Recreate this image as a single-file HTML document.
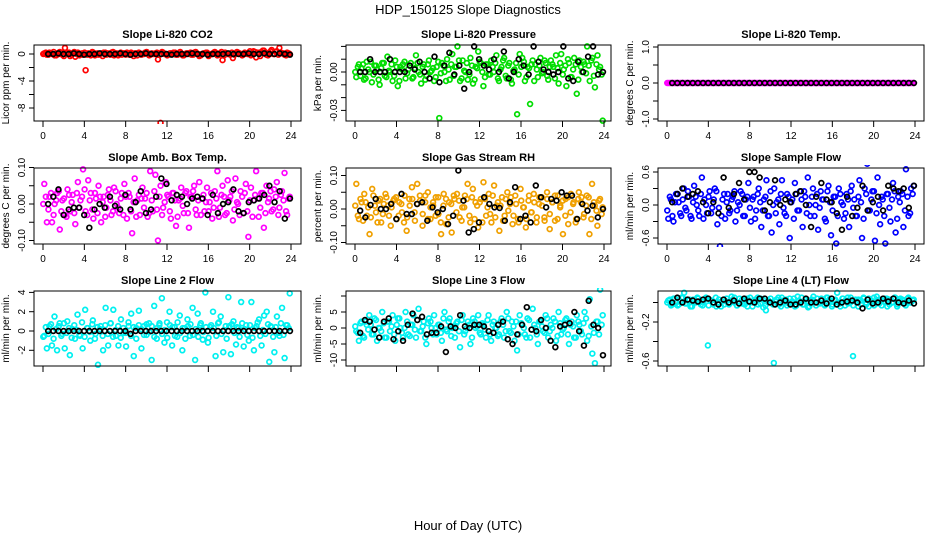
<!DOCTYPE html>
<html><head><meta charset="utf-8"><style>
html,body{margin:0;padding:0;background:#fff;}
svg{display:block;font-family:"Liberation Sans",sans-serif;}
</style></head><body>
<svg id="chart" width="936" height="540" viewBox="0 0 936 540">
<text x="468" y="14" text-anchor="middle" font-size="13">HDP_150125  Slope Diagnostics</text>
<text x="468" y="530" text-anchor="middle" font-size="13">Hour of Day (UTC)</text>
</svg>
<script>
const titles=["Slope Li-820 CO2","Slope Li-820 Pressure","Slope Li-820 Temp.","Slope Amb. Box Temp.","Slope Gas Stream RH","Slope Sample Flow","Slope Line 2 Flow","Slope Line 3 Flow","Slope Line 4 (LT) Flow"];
const yTitles=["Licor ppm per min.","kPa per min.","degrees C per min.","degrees C per min.","percent per min.","ml/min per min.","ml/min per min.","ml/min per min.","ml/min per min."];
const colors=["#ff0000","#00dd00","#ff00ff","#ff00ff","#f0a000","#0000ff","#00f0f0","#00f0f0","#00f0f0"];
const xTickValues=[0,4,8,12,16,20,24];
const yTicks=[[0,-2,-4,-6,-8],[0.02,0.01,0,-0.01,-0.02,-0.03],[1,0.5,0,-0.5,-1],[0.1,0.05,0,-0.05,-0.1],[0.1,0.05,0,-0.05,-0.1],[0.6,0.3,0,-0.3,-0.6],[4,2,0,-2],[10,5,0,-5,-10],[0,-0.2,-0.4,-0.6]];
const yTickLabels=[[[0,"0"],[-4,"-4"],[-8,"-8"]],[[0,"0.00"],[-0.03,"-0.03"]],[[1,"1.0"],[0,"0.0"],[-1,"-1.0"]],[[0.1,"0.10"],[0,"0.00"],[-0.1,"-0.10"]],[[0.1,"0.10"],[0,"0.00"],[-0.1,"-0.10"]],[[0.6,"0.6"],[0,"0.0"],[-0.6,"-0.6"]],[[4,"4"],[2,"2"],[0,"0"],[-2,"-2"]],[[5,"5"],[0,"0"],[-5,"-5"],[-10,"-10"]],[[-0.2,"-0.2"],[-0.6,"-0.6"]]];
const s1=[0.1,-0.1,0.2,0,-0.2,0.1,0.3,-0.1,0.9,0.2,-0.3,0.1,-0.4,0.2,0,-0.1,-2.4,0.1,-0.2,0.2,0,-0.1,0.1,0.2,-0.1,0,0.2,-0.2,0.1,0,-0.1,0.1,0.2,-0.1,0,0.1,-0.2,0.1,0,0.2,0.1,-0.1,0,0.1,-0.8,-10.2,0.2,0,-0.1,0.1,0.2,-0.1,0,0.1,-0.2,0.1,0,-0.1,0.2,0.1,-0.3,0,0.1,0.2,-0.1,0,0.3,-0.2,0.1,-0.9,0.2,0,-0.1,-0.6,0.1,0.2,0,-0.1,0.1,0,-0.2,0.4,-0.5,0.1,0.3,0.5,-0.1,0.2,0.6,0,0.4,0.9,0.1,-0.1,0.2,0];
const c1=[0,0.2,-0.1,0.1,0.3,-0.2,0,0.2,-0.3,0.1,0.2,-0.1,0.3,0,-0.2,0.1,0.2,-0.1,0,0.3,-0.2,0.1,0,-0.3,0.2,0.1,-0.1,0.3,0,-0.2,0.2,0.1,-0.1,0,0.2,-0.3,0.1,0.2,-0.1,0,0.3,-0.2,0.1,0,0.2,-0.1,0.3,0,-0.2,0.1,0,0.2,-0.1,0.3,-0.2,0,0.1,0.2,-0.1,0.3,0,-0.2,0.1,0.2,-0.3,0,0.2,0.1,-0.1,0.3,-0.2,0.1,0,0.2,-0.1,0.3,0.1,-0.2,0.2,0,0.4,-0.1,0.3,0.2,-0.3,0.5,0.1,-0.2,0.4,0,0.3,-0.1,0.2,0.1,-0.2,0.1];
const b1=[0,0,0.1,0,0,0.1,0,-0.1,0,0,0.1,0,0,0,0.1,0,-0.1,0,0,0.1,0,0,0,0,-0.1,0,0,0,0.1,0,0,-0.1,0,0,0,0.1,0,0,0,0.1,0,0,0.1,0,0,0.1,0,-0.1];
const s2=[-0.004,0.006,0.003,-0.006,0.008,0,-0.008,0.005,0.002,-0.01,0.007,-0.003,0.012,0,-0.007,0.009,-0.011,0.004,0.006,-0.005,0.002,0.007,-0.004,0.013,0,-0.009,0.006,-0.003,0.009,0.001,-0.007,0.004,-0.036,0.007,0,0.01,-0.006,0.014,0.004,0.02,-0.007,0.009,0,-0.006,0.011,-0.009,0.004,0.016,0.007,-0.011,0.006,-0.002,0.009,0,0.013,-0.007,0.004,0.011,-0.005,0.007,-0.009,0.002,-0.033,0.014,0.011,-0.007,0.004,-0.025,0.009,0.006,-0.004,0.011,0,0.007,-0.006,0.009,0.004,0.013,-0.009,0.014,0.002,-0.011,0.007,-0.004,0.011,-0.017,0.009,0,0.006,0.02,-0.007,0.011,-0.012,0.013,0.004,-0.038];
const c2=[0,0.004,-0.003,0.006,-0.005,0.002,0.008,-0.002,0.005,-0.006,0.003,0.007,-0.004,0.001,0.006,-0.003,0.004,-0.007,0.002,0.008,-0.001,0.005,-0.005,0.003,0.007,-0.002,0.004,-0.006,0.006,0,0.003,-0.004,0.008,-0.001,0.005,-0.007,0.002,0.006,-0.003,0.004,0.009,-0.005,0.001,0.007,-0.002,0.005,-0.006,0.003,0.008,0,-0.004,0.006,-0.002,0.004,0.007,-0.005,0.002,0.009,-0.003,0.005,-0.006,0.001,0.007,-0.002,0.004,0.008,-0.004,0.003,0.006,-0.007,0.002,0.005,-0.001,0.009,-0.003,0.004,0.006,-0.005,0.003,0.007,-0.002,0.005,0.01,-0.004,0.002,0.006,-0.006,0.004,0.008,-0.001,0.005,0.009,-0.003,0.006,0.002,-0.002];
const b2=[0,0,0.01,0,0,0,0.01,0,0,0,0.005,0.002,0.008,0,-0.005,0.012,-0.008,0.005,0.015,-0.002,0.005,-0.013,0,0.02,0.01,0.005,0.002,0.01,0,0.016,-0.005,0,0.01,0.005,-0.002,0.02,0.008,0.002,0,-0.002,0,0.02,-0.005,-0.007,0.008,0,0.012,0.02,-0.002,0];
const s3=[0,0,0,0,0,0,0,0,0,0,0,0,0,0,0,0,0,0,0,0,0,0,0,0,0,0,0,0,0,0,0,0,0,0,0,0,0,0,0,0,0,0,0,0,0,0,0,0,0,0,0,0,0,0,0,0,0,0,0,0,0,0,0,0,0,0,0,0,0,0,0,0,0,0,0,0,0,0,0,0,0,0,0,0,0,0,0,0,0,0,0,0,0,0,0,0];
const c3=[0,0,0,0,0,0,0,0,0,0,0,0,0,0,0,0,0,0,0,0,0,0,0,0,0,0,0,0,0,0,0,0,0,0,0,0,0,0,0,0,0,0,0,0,0,0,0,0,0,0,0,0,0,0,0,0,0,0,0,0,0,0,0,0,0,0,0,0,0,0,0,0,0,0,0,0,0,0,0,0,0,0,0,0,0,0,0,0,0,0,0,0,0,0,0,0];
const b3=[0,0,0,0,0,0,0,0,0,0,0,0,0,0,0,0,0,0,0,0,0,0,0,0,0,0,0,0,0,0,0,0,0,0,0,0,0,0,0,0,0,0,0,0,0,0,0,0];
const s4=[0.055,-0.05,0.02,-0.05,0,0.03,-0.07,0.01,-0.03,0.04,-0.02,0.025,-0.055,0.06,0.01,0.095,-0.02,0.065,0.03,-0.04,0.015,0.05,-0.05,0.02,-0.01,0.04,-0.03,0.045,0,-0.025,0.03,0.055,-0.04,0.02,-0.08,0.07,0.01,-0.03,0.045,0.015,-0.035,0.09,-0.02,0.08,-0.1,0.05,-0.01,0.06,0.02,-0.04,0.03,-0.06,0.01,0.045,-0.025,0.035,-0.065,0.02,0.05,-0.03,0.06,0.015,-0.02,0.045,0.005,-0.04,0.035,0.09,-0.01,0.05,-0.03,0.065,0.02,-0.045,0.07,0,0.035,-0.025,0.055,-0.09,0.045,0.01,0.09,-0.035,0.03,-0.065,0.05,0.015,-0.02,0.04,0.06,-0.01,0.035,0.085,-0.03,0.02];
const c4=[0,0.02,-0.015,0.03,-0.03,0.01,0.035,-0.02,0.015,-0.035,0.025,0.005,-0.025,0.03,-0.01,0.02,0.04,-0.03,0.01,-0.015,0.03,-0.025,0.02,0.005,-0.035,0.025,0.01,-0.02,0.035,-0.01,0.015,-0.03,0.02,0.03,-0.02,0.005,-0.035,0.025,0.015,-0.01,0.03,-0.025,0.01,0.035,-0.015,0.02,-0.03,0.005,0.025,-0.02,0.03,0.01,-0.035,0.015,-0.005,0.03,-0.025,0.02,0.035,-0.015,0.01,-0.03,0.025,0.005,-0.02,0.03,-0.01,0.015,-0.035,0.025,0.02,-0.025,0.01,0.035,-0.015,0.005,-0.03,0.02,0.03,-0.02,0.01,-0.035,0.025,0.015,-0.01,0.03,-0.025,0.005,0.035,-0.015,0.02,-0.03,0.025,0.01,-0.02,0.015];
const b4=[0,0.02,0.04,-0.03,-0.015,-0.01,-0.01,-0.03,-0.065,-0.015,0,-0.01,0.02,-0.005,-0.015,0.025,-0.015,0.005,0.035,-0.025,-0.015,0.02,0.07,0.055,0.01,0.025,0.02,0,0.015,0.02,0.015,-0.03,0.025,-0.025,0,0.005,0.04,-0.02,-0.025,0.005,0.01,0.015,0.025,0.05,0.005,0.035,-0.04,0.015];
const s5=[0.075,-0.03,0.02,0.045,-0.02,-0.075,0.06,0.01,-0.04,0.03,-0.015,0.045,0.01,-0.05,0.025,0.035,-0.02,0.015,-0.04,-0.065,0.03,0.065,-0.01,0.075,0.04,-0.05,0.02,0.05,-0.03,0.01,0.035,-0.015,-0.075,0.045,-0.045,0.02,-0.07,0.03,0.045,-0.025,0.005,0.04,0.075,-0.04,0.06,0.02,-0.055,0.03,0.08,-0.02,0.045,-0.04,0.07,0.01,-0.065,0.035,-0.02,0.05,0.015,-0.045,0.04,-0.03,0.06,0.005,-0.055,0.025,-0.01,0.045,-0.04,0.015,0.035,-0.025,0.05,-0.06,0.02,-0.035,0.04,0.01,-0.075,0.03,-0.045,0.045,0.02,-0.03,0.05,0.035,-0.015,0.04,-0.075,0.075,0.01,-0.05,0.03,0.005];
const c5=[0.01,-0.02,0.03,-0.035,0.02,0.005,-0.025,0.04,-0.01,0.025,-0.04,0.015,0.035,-0.02,0.005,0.03,-0.03,0.02,-0.01,0.04,-0.025,0.01,0.03,-0.035,0.015,0.025,-0.015,0.04,-0.03,0.005,0.02,-0.02,0.035,-0.04,0.01,0.03,-0.025,0.015,0.04,-0.01,0.025,-0.035,0.005,0.03,-0.02,0.035,-0.03,0.01,0.02,-0.04,0.03,0.005,-0.015,0.04,-0.025,0.02,0.01,-0.035,0.03,-0.005,0.035,-0.02,0.015,-0.04,0.025,0.005,-0.03,0.04,-0.01,0.02,-0.025,0.035,0.01,-0.035,0.03,-0.015,0.02,0.04,-0.03,0.005,0.025,-0.02,0.035,-0.01,0.015,-0.04,0.03,0.02,-0.025,0.01,0.035,-0.03,0.02,-0.005,0.025,-0.015];
const b5=[-0.005,-0.025,0.012,0.03,0,0,0.015,-0.03,0.045,-0.015,-0.015,0.015,0.02,-0.035,0.005,-0.01,0,-0.045,-0.02,0.115,0.025,-0.07,-0.06,-0.04,0.035,0.015,0.005,0.003,-0.035,0.02,0.065,-0.03,-0.02,-0.04,0.07,0.035,0.005,0.03,0.025,0.05,0.04,0.04,-0.03,0.015,-0.005,0.01,-0.025,0];
const s6=[-0.25,0.1,-0.3,0.2,0.05,-0.2,0.3,-0.1,0.15,-0.25,0.35,0,-0.2,0.5,0.1,-0.15,0.25,-0.05,0.3,-0.35,-0.75,0.1,-0.25,0.2,-0.1,0.15,-0.3,0.05,0.25,-0.2,0.1,0.4,-0.3,0.15,-0.1,0.3,-0.4,0.1,0.45,-0.2,-0.5,0.3,0.05,-0.35,0.45,-0.15,0.2,-0.6,0.1,0.4,-0.1,0.25,-0.4,0.15,0.5,-0.2,0.3,0,-0.45,0.25,0.1,-0.3,0.35,-0.55,0.15,-0.7,0.3,0.05,-0.25,0.2,-0.4,0.35,0.1,-0.2,0.45,-0.6,0.3,0.75,-0.1,0.25,-0.65,0.5,-0.35,0.1,-0.7,0.2,-0.3,0.4,-0.5,0.15,0.25,-0.4,0.65,-0.2,0.3,0.35];
const c6=[-0.1,0.15,-0.2,0.05,0.2,-0.15,0.1,-0.05,0.25,-0.2,0.05,0.15,-0.1,0.2,-0.25,0,0.15,-0.15,0.1,0.25,-0.05,-0.2,0.2,0.05,-0.15,0.1,0.25,-0.1,0,0.2,-0.2,0.15,-0.05,0.1,-0.25,0.2,0.05,-0.1,0.15,-0.2,0.25,0,-0.15,0.1,0.2,-0.05,-0.2,0.15,0.05,-0.25,0.2,-0.1,0.1,0.25,-0.15,0,0.15,-0.2,0.2,-0.05,0.1,-0.25,0.25,0.05,-0.1,0.15,-0.2,0.2,0,-0.15,0.1,0.25,-0.05,-0.2,0.15,0.05,-0.25,0.2,-0.1,0.1,0.25,-0.15,0,0.15,-0.2,0.2,-0.05,0.1,0.25,-0.25,0.05,0.2,-0.1,0.15,-0.15,0.2];
const b6=[0.05,0.2,0.3,0.15,0.2,0.25,0.05,-0.15,0.05,-0.15,0.5,-0.05,0.2,0.4,0.1,0.6,0.6,0.5,-0.1,0.05,0.45,0,0.1,0.05,0.2,0.25,0,-0.4,0.15,0.4,0.1,0.05,-0.15,-0.45,0.15,-0.2,-0.05,0.35,-0.1,0.05,0.15,-0.1,0.35,0.3,0.25,0.3,-0.05,0.35];
const s7=[-0.5,-1.8,0.5,-1.5,1.5,-2,0.8,-0.3,-1.8,1,-2.5,0.2,-0.8,1.7,-0.5,-1.8,2.2,0.3,-1,1.1,-0.3,-3.5,0.5,-2,2.4,-1.5,0.8,2.2,-0.5,-1.5,1.2,-0.2,-1.6,0.5,1.8,-2.6,0.3,2.1,-1.8,0.5,-0.4,0.8,-3,2.6,-0.8,0.6,3.4,-1.2,0.9,2,-1.5,0.4,-0.6,1.6,-2,0.3,1.2,-0.5,2.4,-3,1.8,0.6,-0.9,4,-1.2,0.4,2,-2.6,0.8,1.5,-2.2,0.5,3.5,-2.4,1,-1.4,0.3,3,-1.6,0.6,-1,3,-2,0.5,1.2,-1.5,1.6,2,-3.2,0.4,-2.2,1.5,-0.5,2.4,-2.8,0.6,3.9];
const c7=[-0.6,0.4,-0.3,0.7,-0.8,0.2,0.5,-0.5,0.8,-0.2,0.3,-0.7,0.6,0.1,-0.4,0.9,-0.6,0.3,-0.1,0.7,-0.8,0.4,0.2,-0.5,0.6,-0.3,0.8,-0.6,0.1,0.5,-0.7,0.3,-0.2,0.9,-0.5,0.4,-0.8,0.6,0.2,-0.4,0.7,-0.1,0.5,-0.6,0.3,0.8,-0.3,0.1,-0.7,0.6,0.4,-0.5,0.9,-0.2,0.3,-0.8,0.5,0.7,-0.4,0.2,-0.6,0.8,-0.1,0.4,-0.7,0.6,0.3,-0.5,0.9,-0.3,0.1,-0.8,0.5,0.7,-0.2,0.4,-0.6,0.8,0.2,-0.4,0.6,-0.7,0.3,0.9,-0.5,0.1,-0.3,0.7,0.5,-0.6,0.4,-0.2,0.8,-0.4,0.6,0.3];
const b7=[0,0,0,0,0,0,0,0,0,0,0,0,0,0,0,0,-0.3,0,0,0,0,0,0,0,0,0,0,0,0,0,0,0,0,0,0,0,0,0,0,0,0,0,0,0,0,0,0,0];
const s8=[-1,-4,2,-3,1,4,-2,3,-4,0,5,-3,2,-1,4,-4,3,0,-3,5,-2,1,4,-3,6,-1,2,-5,3,0,4,-2,1,-4,5,-1,3,0,-3,2,-6,4,-1,2,-5,3,0,4,-2,1,-3,4,-4,2,0,-2,3,-3,5,-1,2,-4,-7,4,1,-2,3,-3,6,0,-5,2,-1,4,-3,1,3,-4,5,-2,0,3,-5,2,-3,4,1,-2,5,-4,9,-8,-11,2,12,4];
const c8=[0.5,-1.5,1.5,-2.5,2,-0.5,1,-2,2.5,0,-1,1.5,-3,2,0.5,-2,1,3,-1.5,0,2,-2.5,1,-0.5,2.5,-1,0.5,-3,1.5,2,-2,0,1,-1.5,3,-0.5,2,-2.5,0.5,1.5,-1,2.5,-2,0,1,-3,2,0.5,-1.5,1.5,-0.5,2.5,-2,1,0,-2.5,2,1,-1,3,-1.5,0.5,2,-2,1.5,0,-3,2.5,-0.5,1,-2,2,0.5,-1.5,3,-1,0,2,-2.5,1.5,-0.5,2.5,-2,1,0.5,-3,2,-1,1.5,3,-2.5,0.5,-1.5,2,-2,1];
const b8=[-1.5,2.5,2,-0.5,-3,2,3,-3.5,-1,-4,1,4.5,2.5,3.5,-2,-1.5,-1.5,0.5,-7.5,0.5,0,4,0.5,0,1,1,0.5,-1,-1.5,1,2,-3.5,-5,-2,1,6.5,-0.5,-1,2.5,0,-4,-6,0.5,1,1.5,5,-1,-5.5,8.5,1,0,-8.5];
const s9=[0.02,-0.03,0.04,0,-0.02,0.05,0.1,-0.01,0.03,-0.04,0.02,0.05,0,-0.03,0.04,-0.44,0.02,-0.02,0.05,0,-0.04,0.03,0.01,-0.02,0.06,0,-0.03,0.04,-0.01,0.02,-0.04,0.05,0,0.03,-0.02,0.04,-0.05,-0.08,0.02,0,-0.62,0.03,-0.02,0.05,0,-0.03,0.04,0.01,-0.04,0.06,0,-0.02,0.03,-0.05,0.02,0.06,-0.03,0,0.04,-0.02,0.05,0.03,-0.04,0.02,0.1,-0.01,0.04,-0.03,0.05,0,-0.55,0.03,-0.04,0.02,0.05,-0.02,0.04,0,-0.03,0.06,-0.01,0.02,0.04,-0.04,0.03,0,0.05,-0.02,0.04,0.02,-0.03,0.05,0,0.03];
const c9=[0,0.03,-0.02,0.04,-0.03,0.01,0.05,-0.01,0.02,-0.04,0.03,0,0.04,-0.02,0.01,0.05,-0.03,0.02,0,-0.04,0.03,0.01,-0.02,0.04,-0.01,0.02,0.05,-0.03,0,0.03,-0.02,0.04,0.01,-0.04,0.02,0.05,-0.01,0.03,-0.03,0,0.04,-0.02,0.01,0.05,-0.04,0.02,0.03,-0.01,0,0.04,-0.03,0.02,0.05,-0.02,0.01,-0.04,0.03,0,0.04,-0.01,0.02,-0.03,0.05,0.01,-0.02,0.03,0,-0.04,0.04,0.02,-0.01,0.05,-0.03,0.01,0.03,-0.02,0.04,0,-0.04,0.02,0.05,-0.01,0.03,-0.03,0.01,0.04,-0.02,0,0.05,-0.04,0.02,0.03,-0.01,0.04,0,0.02];
const b9=[0,0.05,0,0.03,0.02,0.01,0.03,0.04,0,-0.02,0.03,0,0.02,-0.01,0.04,0.01,0,0.04,0.04,0,-0.02,0,0.02,-0.02,-0.02,0,0.04,0,0,0.02,-0.01,0.04,-0.02,0,0.01,0.02,0,-0.06,0.03,-0.01,0,0.04,0.01,0.04,0,-0.01,0.02,-0.01];
const seriesColor=[s1,s2,s3,s4,s5,s6,s7,s8,s9];
const seriesCore=[c1,c2,c3,c4,c5,c6,c7,c8,c9];
const seriesBlack=[b1,b2,b3,b4,b5,b6,b7,b8,b9];

const NS="http://www.w3.org/2000/svg";
const svg=document.getElementById("chart");
const cols=[{l:34,r:301,x0:43,x24:291},{l:346,r:611,x0:355,x24:604},{l:658,r:924,x0:667,x24:915}];
const rows=[{t:45,b:121},{t:168,b:244},{t:291,b:366}];
const yMaps=[[54,6.75],[72,1280],[83,36],[204,365],[209,335],[205,55],[331,9.65],[328,3.2],[302.5,97.5]];
function mk(tag,attrs,parent){const e=document.createElementNS(NS,tag);for(const k in attrs)e.setAttribute(k,attrs[k]);(parent||svg).appendChild(e);return e;}
for(let p=0;p<9;p++){
  const c=cols[p%3],r=rows[Math.floor(p/3)];
  const g=mk("g",{});
  
  
  const xs=h=>c.x0+(c.x24-c.x0)*h/24;
  const ys=v=>yMaps[p][0]-yMaps[p][1]*v;
  const t=mk("text",{x:(c.l+c.r)/2,y:r.t-7,"text-anchor":"middle","font-size":"11","font-weight":"bold"},g);
  t.textContent=titles[p];
  
  
  const clip="clip"+p;
  const cp=mk("clipPath",{id:clip},g);mk("rect",{x:c.l,y:r.t-3,width:c.r-c.l,height:r.b-r.t+6},cp);
  const pts=mk("g",{"clip-path":"url(#"+clip+")"},g);
  const sc=seriesColor[p];
  sc.forEach((v,i)=>{const e=mk("circle",{cx:xs((i+0.5)*24/sc.length),cy:ys(v),r:2.4,fill:"none",stroke:colors[p],"stroke-width":1.7},pts);
    
    });
  const cc=seriesCore[p];
  cc.forEach((v,i)=>{const e=mk("circle",{cx:xs((i+0.1)*24/cc.length),cy:ys(v),r:2.4,fill:"none",stroke:colors[p],"stroke-width":1.7},pts);
    
    });
  const sb=seriesBlack[p];
  sb.forEach((v,i)=>{const e=mk("circle",{cx:xs(0.5+(i)*23.4/(sb.length-1)),cy:ys(v),r:2.4,fill:"none",stroke:"#000","stroke-width":1.7},pts);
    
    });
  const bx=mk("rect",{x:c.l,y:r.t,width:c.r-c.l,height:r.b-r.t,fill:"none",stroke:"#000","stroke-width":1},g);
  
  
  mk("line",{x1:xs(0),x2:xs(24),y1:r.b,y2:r.b,stroke:"#000"},g);
  xTickValues.forEach(h=>{mk("line",{x1:xs(h),x2:xs(h),y1:r.b,y2:r.b+6,stroke:"#000"},g);
    if(p<6){const tl=mk("text",{x:xs(h),y:r.b+18,"text-anchor":"middle","font-size":"10"},g);tl.textContent=h;
      
      }});
  const tk=yTicks[p];
  mk("line",{x1:c.l,x2:c.l,y1:ys(tk[0]),y2:ys(tk[tk.length-1]),stroke:"#000"},g);
  tk.forEach(v=>mk("line",{x1:c.l-5,x2:c.l,y1:ys(v),y2:ys(v),stroke:"#000"},g));
  yTickLabels[p].forEach(([v,s])=>{const yy=ys(v),xx=c.l-9;
    const tl=mk("text",{x:xx,y:yy,"text-anchor":"middle","font-size":"10",transform:`rotate(-90 ${xx} ${yy})`},g);tl.textContent=s;
    
    });
  const ym=(r.t+r.b)/2,xm=c.l-25;
  const yt=mk("text",{x:xm,y:ym,"text-anchor":"middle","font-size":"10",transform:`rotate(-90 ${xm} ${ym})`},g);
  yt.textContent=yTitles[p];
  
  
}
</script>
</body></html>
